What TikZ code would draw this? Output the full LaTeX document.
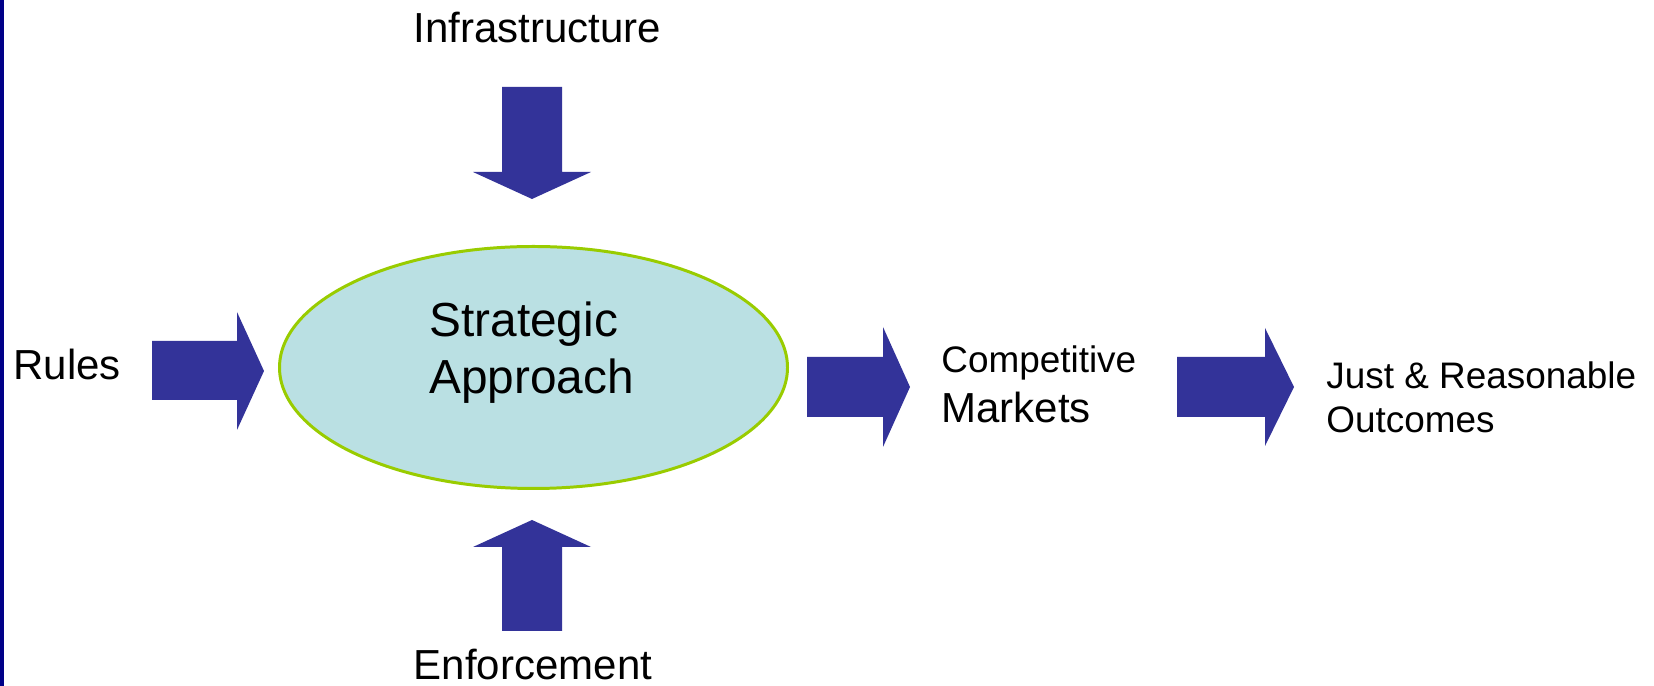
\documentclass[tikz,border=0pt]{standalone}
\usepackage{fontspec}
\setmainfont{Liberation Sans}
\definecolor{arrowBlue}{RGB}{51, 51, 153}
\definecolor{edgeNavy}{RGB}{0, 0, 136}
\definecolor{ovalFill}{RGB}{186, 224, 227}
\definecolor{ovalGreen}{RGB}{153, 204, 0}
\usepackage{tikz}
\usetikzlibrary{shapes,arrows,positioning,calc}
\usepackage{xcolor}
\tikzset{
  bigLabel/.style={font=\fontsize{23.9}{28.5}\selectfont,inner sep=0},
  smallLabel/.style={font=\fontsize{21}{24.75}\selectfont,inner sep=0,anchor=west,align=left},
  blockArrow/.style={fill=arrowBlue}
}

\begin{document}
\begin{tikzpicture}
                \useasboundingbox (0,0) rectangle (33.08,13.72);
                % Left edge bar
                \fill[edgeNavy] (0,0) rectangle (0.08,13.72);
                % Strategic Approach
                \draw[ovalGreen,line width=1.7pt,fill=ovalFill] (10.67,6.37) ellipse (5.08 and 2.42);
                \node[font=\fontsize{27.2}{32.4}\selectfont,inner sep=0,anchor=west,align=left] (strategy) at (8.58,6.66) {Strategic\\Approach};
                % Infrastructure - down
                \node[bigLabel,anchor=base] (infra) at (10.75,12.86) {Infrastructure};
                \fill[blockArrow] (10.04,11.98) -- (11.24,11.98) -- (11.24,10.28) -- (11.82,10.28) -- (10.64,9.74) -- (9.46,10.28) -- (10.04,10.28) -- cycle;
                % Enforcement - up
                \node[bigLabel,anchor=base] (enforce) at (10.66,0.12) {Enforcement};
                \fill[blockArrow] (10.04,1.10) -- (11.24,1.10) -- (11.24,2.78) -- (11.82,2.78) -- (10.64,3.32) -- (9.46,2.78) -- (10.04,2.78) -- cycle;
                % Rules - right
                \node[bigLabel,anchor=base west] (rules) at (0.26,6.13) {Rules};
                \fill[blockArrow] (3.04,5.72) -- (4.74,5.72) -- (4.74,5.12) -- (5.28,6.30) -- (4.74,7.48) -- (4.74,6.90) -- (3.04,6.90) -- cycle;
                % Competitive Markets
                \fill[blockArrow] (16.14,5.38) -- (17.66,5.38) -- (17.66,4.78) -- (18.20,5.98) -- (17.66,7.18) -- (17.66,6.58) -- (16.14,6.58) -- cycle;
                \node[smallLabel,font=\fontsize{21}{28.5}\selectfont] (markets) at (18.82,6.03) {Competitive\\{\fontsize{23.9}{28.5}\selectfont Markets}};
                % Just & Reasonable Outcomes
                \fill[blockArrow] (23.54,5.38) -- (25.30,5.38) -- (25.30,4.80) -- (25.88,5.98) -- (25.30,7.16) -- (25.30,6.58) -- (23.54,6.58) -- cycle;
                \node[smallLabel] (outcomes) at (26.52,5.77) {Just \& Reasonable\\Outcomes};
            \end{tikzpicture}
\end{document}
